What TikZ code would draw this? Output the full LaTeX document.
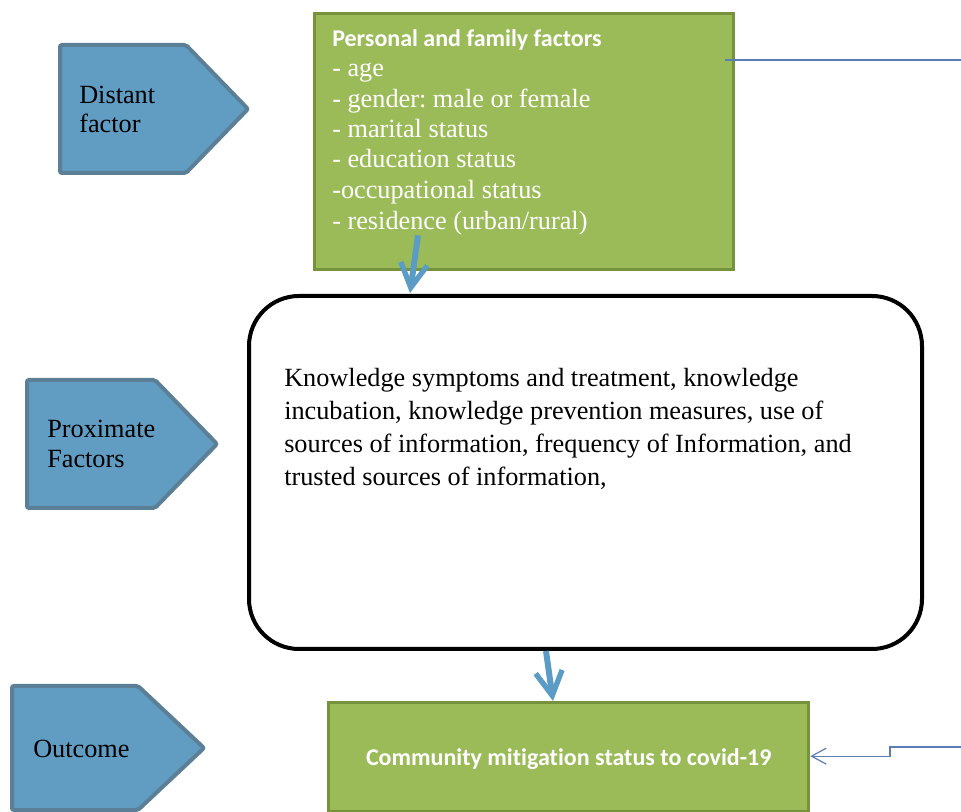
\documentclass[tikz,border=0pt]{standalone}
\usepackage{fontspec}
\setmainfont{Liberation Serif}
\newfontfamily\calib[Ligatures=NoCommon]{Carlito}
\usetikzlibrary{arrows.meta,calc}
\definecolor{gfill}{HTML}{9BBB59}
\definecolor{gline}{HTML}{76923C}
\definecolor{bfill}{HTML}{619DC2}
\definecolor{bline}{HTML}{5A7F97}
\definecolor{arrowblue}{HTML}{5B9CC6}
\definecolor{thinblue}{HTML}{5C7DB4}
\frenchspacing
\begin{document}
\begin{tikzpicture}[x=0.75pt,y=-0.75pt,
  serif/.style={font=\fontsize{19.7}{23}\selectfont, inner sep=0, anchor=base west},
  head/.style={font=\calib\bfseries\fontsize{18}{22}\selectfont, text=white, inner sep=0},
  tag/.style={fill=bfill, draw=bline, line width=3pt, rounded corners=1.5pt},
  greenbox/.style={draw=gline, fill=gfill, line width=2.5pt, inner sep=0, anchor=north west},
  roundbox/.style={draw=black, line width=3pt, rounded corners=37.5pt, inner sep=0, anchor=north west},
  bigarrow/.style={draw=arrowblue, line width=4.5pt, -{Straight Barb[length=18pt,width=20pt,line width=4pt]}},
  thinline/.style={draw=thinblue, line width=0.9pt},
  thinarrow/.style={thinline, -{Straight Barb[length=11pt,width=12pt,line width=0.9pt]}}
]
\useasboundingbox (0,0) rectangle (961,812);

% left tags
\draw[tag] (60,45) -- (186,45) -- (248,109) -- (186,173) -- (60,173) -- cycle;
\node[serif] (d1) at (79,104) {Distant};
\node[serif] (d2) at (79,133) {factor};

\draw[tag] (27,380) -- (155,380) -- (217,444) -- (155,508) -- (27,508) -- cycle;
\node[serif] (x1) at (47,438) {Proximate};
\node[serif] (x2) at (47,468) {Factors};

\draw[tag] (12,686) -- (138,686) -- (204,748) -- (138,810) -- (12,810) -- cycle;
\node[serif] (o1) at (33,758) {Outcome};

% personal and family factors box
\node[greenbox, minimum width=314.25pt, minimum height=192pt] (pf) at (313,12) {};
\node[head, anchor=base west] (pfh) at (332,47) {Personal and family factors};
\node[serif, text=white] (p1) at (332,77) {- age};
\node[serif, text=white] (p2) at (332,107.5) {- gender: male or female};
\node[serif, text=white] (p3) at (332,138) {- marital status};
\node[serif, text=white] (p4) at (332,168) {- education status};
\node[serif, text=white] (p5) at (332,199) {-occupational status};
\node[serif, text=white] (p6) at (332,230) {- residence (urban/rural)};

% knowledge box
\node[roundbox, minimum width=504.75pt, minimum height=264.75pt] (kn) at (247,294) {};
\node[serif] (k1) at (284,387) {Knowledge symptoms and treatment, knowledge};
\node[serif] (k2) at (284,420) {incubation, knowledge prevention measures, use of};
\node[serif] (k3) at (284,453) {sources of information, frequency of Information, and};
\node[serif] (k4) at (284,486) {trusted sources of information,};

% outcome box
\node[greenbox, minimum width=360pt, minimum height=81.75pt] (out) at (327,701) {};
\node[head] (outt) at ($(out.center)+(0,2)$) {Community mitigation status to covid-19};

% connectors
\draw[bigarrow] ($(pf.south west)+(105,-36)$) -- ($(kn.north west)+(163,-1)$);
\draw[bigarrow] ($(kn.south west)+(299,0)$) -- ($(out.north west)+(226,0)$);

\coordinate (r1) at (961,60);
\draw[thinline] ($(pf.north east)+(-10,48)$) -- (r1);

\coordinate (r2) at (961,747);
\coordinate (st) at (890,747);
\draw[thinarrow] (r2) -- (st) |- ($(out.east)+(0,-1)$);
\end{tikzpicture}
\end{document}
